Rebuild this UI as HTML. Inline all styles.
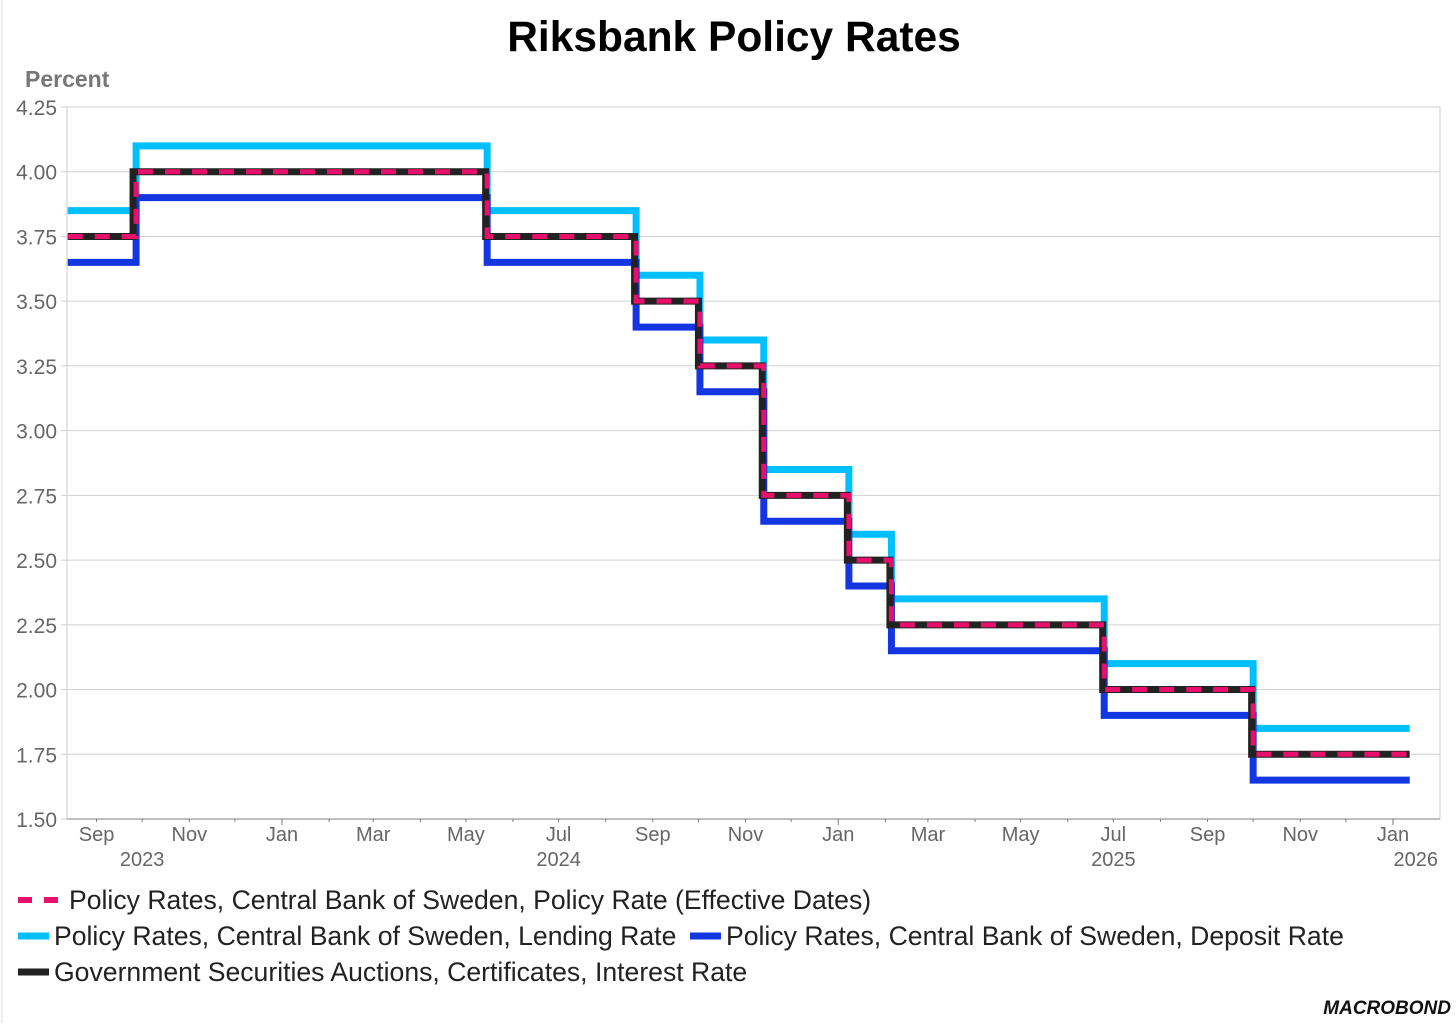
<!DOCTYPE html>
<html><head><meta charset="utf-8"><style>
body{margin:0;background:#fff;width:1456px;height:1023px;overflow:hidden;font-family:"Liberation Sans",sans-serif}
</style></head><body>
<svg id="c" width="1456" height="1023" xmlns="http://www.w3.org/2000/svg">
<rect x="0" y="0" width="1456" height="1023" fill="#fff"/>
<line x1="2" y1="0" x2="2" y2="1023" stroke="#eee" stroke-width="2"/>
<text x="734" y="51" text-anchor="middle" font-size="42.5" font-weight="bold" fill="#000">Riksbank Policy Rates</text>
<text x="25" y="87" font-size="23" font-weight="bold" fill="#777">Percent</text>
<g id="grid"></g><g id="series"></g><g id="xaxis"></g>
<g font-size="26.6" fill="#222">
<g><line x1="18" y1="900" x2="64" y2="900" stroke="#e8106a" stroke-width="6" stroke-dasharray="14,12"/><text x="69" y="909">Policy Rates, Central Bank of Sweden, Policy Rate (Effective Dates)</text></g>
<g><line x1="18" y1="936" x2="49" y2="936" stroke="#00bfff" stroke-width="7"/><text x="54" y="945">Policy Rates, Central Bank of Sweden, Lending Rate</text></g>
<g><line x1="690" y1="936" x2="721" y2="936" stroke="#1436e0" stroke-width="7"/><text x="726" y="945">Policy Rates, Central Bank of Sweden, Deposit Rate</text></g>
<g><line x1="18" y1="972" x2="49" y2="972" stroke="#222" stroke-width="7"/><text x="54" y="981">Government Securities Auctions, Certificates, Interest Rate</text></g>
</g>
<text x="1451" y="1014" text-anchor="end" font-size="19" font-weight="bold" font-style="italic" fill="#111">MACROBOND</text>
</svg>
<script>
const yTicks=[1.50,1.75,2.00,2.25,2.50,2.75,3.00,3.25,3.50,3.75,4.00,4.25];
const monthTicks=["2023-09-01","2023-10-01","2023-11-01","2023-12-01","2024-01-01","2024-02-01","2024-03-01","2024-04-01","2024-05-01","2024-06-01","2024-07-01","2024-08-01","2024-09-01","2024-10-01","2024-11-01","2024-12-01","2025-01-01","2025-02-01","2025-03-01","2025-04-01","2025-05-01","2025-06-01","2025-07-01","2025-08-01","2025-09-01","2025-10-01","2025-11-01","2025-12-01","2026-01-01"];
const labelTicks=[["2023-09-01","Sep"],["2023-11-01","Nov"],["2024-01-01","Jan"],["2024-03-01","Mar"],["2024-05-01","May"],["2024-07-01","Jul"],["2024-09-01","Sep"],["2024-11-01","Nov"],["2025-01-01","Jan"],["2025-03-01","Mar"],["2025-05-01","May"],["2025-07-01","Jul"],["2025-09-01","Sep"],["2025-11-01","Nov"],["2026-01-01","Jan"]];
const yearLabels=[["2023-10-01","2023"],["2024-07-01","2024"],["2025-07-01","2025"],["2026-01-16","2026"]];
const policyDates=["2023-08-13","2023-09-27","2024-05-15","2024-08-21","2024-10-02","2024-11-13","2025-01-08","2025-02-05","2025-06-25","2025-10-01","2026-01-12"];
const policyVals=[3.75,4.00,3.75,3.50,3.25,2.75,2.50,2.25,2.00,1.75,1.75];
const lendingVals=[3.85,4.10,3.85,3.60,3.35,2.85,2.60,2.35,2.10,1.85,1.85];
const depositVals=[3.65,3.90,3.65,3.40,3.15,2.65,2.40,2.15,1.90,1.65,1.65];
const auctionDates=["2023-08-13","2023-09-25","2024-05-14","2024-08-20","2024-10-01","2024-11-12","2025-01-07","2025-02-04","2025-06-24","2025-09-30","2026-01-12"];
const auctionVals=[3.75,4.00,3.75,3.50,3.25,2.75,2.50,2.25,2.00,1.75,1.75];

const NS="http://www.w3.org/2000/svg";
const L=67,R=1440,T=107,B=819;
const d0=Date.UTC(2024,0,1), PPD=1.5198;
function x(d){const p=d.split("-");return 282+(Date.UTC(+p[0],+p[1]-1,+p[2])-d0)/864e5*PPD;}
function y(v){return B-(v-1.5)/(2.75)*(B-T);}
function mk(tag,attrs,parent){const e=document.createElementNS(NS,tag);for(const k in attrs)e.setAttribute(k,attrs[k]);parent.appendChild(e);return e;}
const grid=document.getElementById("grid"),ser=document.getElementById("series"),xa=document.getElementById("xaxis");
mk("rect",{x:L,y:T,width:R-L,height:B-T,fill:"none",stroke:"#ccc","stroke-width":1},grid);
yTicks.forEach(v=>{
 const ln=mk("line",{x1:L-6,x2:R,y1:y(v),y2:y(v),stroke:"#d0d0d0","stroke-width":1},grid);
 
 
 const t=mk("text",{x:57,y:y(v)+8,"text-anchor":"end","font-size":21,fill:"#666"},grid);
 t.textContent=v.toFixed(2);
 
 
});
mk("line",{x1:L,x2:R,y1:B,y2:B,stroke:"#aaa","stroke-width":1.5},xa);
monthTicks.forEach(d=>{
 const big=d.endsWith("01-01");
 const t=mk("line",{x1:x(d),x2:x(d),y1:B,y2:B+(big?6:3),stroke:"#777","stroke-width":1},xa);
 
 
});
labelTicks.forEach(([d,m])=>{
 const t=mk("text",{x:x(d),y:841,"text-anchor":"middle","font-size":20,fill:"#666"},xa);
 t.textContent=m;
 
 
});
yearLabels.forEach(([d,yr])=>{
 const u=mk("text",{x:x(d),y:866,"text-anchor":"middle","font-size":20,fill:"#666"},xa);
 u.textContent=yr;
 
 
});
function step(dates,vals){let p="";for(let i=0;i<dates.length;i++){const X=x(dates[i]),Y=y(vals[i]);if(i===0)p+=`M${X},${Y}`;else p+=`L${X},${y(vals[i-1])}L${X},${Y}`;}return p;}
const sLend=mk("path",{d:step(policyDates,lendingVals),fill:"none",stroke:"#00bfff","stroke-width":7},ser);


const sDep=mk("path",{d:step(policyDates,depositVals),fill:"none",stroke:"#1436e0","stroke-width":7},ser);


const sAuc=mk("path",{d:step(auctionDates,auctionVals),fill:"none",stroke:"#222","stroke-width":7},ser);


const sPol=mk("path",{d:step(policyDates,policyVals),fill:"none",stroke:"#e8106a","stroke-width":5,"stroke-dasharray":"15,12"},ser);


</script>
</body></html>
